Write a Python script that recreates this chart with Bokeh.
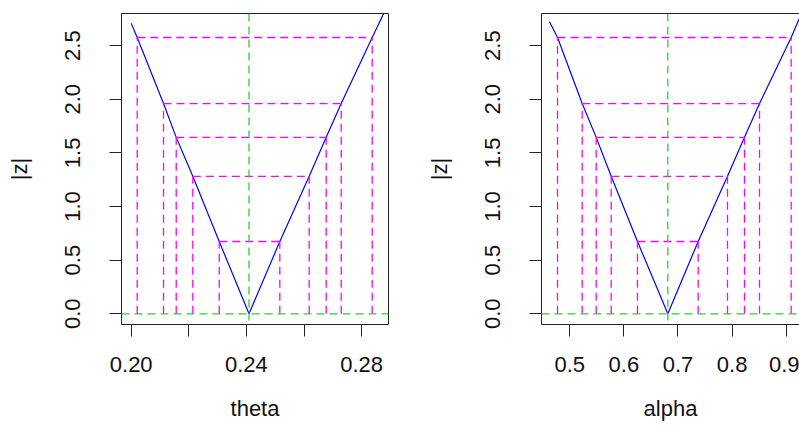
from bokeh.plotting import figure
from bokeh.layouts import row
from bokeh.models import ColumnDataSource, Span, FixedTicker, LinearAxis, Range1d
from bokeh.embed import file_html
from bokeh.resources import INLINE

# ---- data ----
levels = [0.674, 1.282, 1.645, 1.960, 2.576]
z_ticks = [0.0, 0.5, 1.0, 1.5, 2.0, 2.5]
z_labels = ["0.0", "0.5", "1.0", "1.5", "2.0", "2.5"]

theta = [0.2000, 0.20208, 0.21122, 0.21563, 0.22139, 0.23056, 0.2409,
         0.2516, 0.2618, 0.26771, 0.27292, 0.28368, 0.2900]
theta_z = [2.708, 2.576, 1.960, 1.645, 1.282, 0.674, 0.0,
           0.674, 1.282, 1.645, 1.960, 2.576, 2.93]
theta_lo = [0.23056, 0.22139, 0.21563, 0.21122, 0.20208]
theta_hi = [0.2516, 0.2618, 0.26771, 0.27292, 0.28368]
theta_hat = 0.2409
theta_ticks = [0.20, 0.22, 0.24, 0.26, 0.28]
theta_labels = ["0.20", "", "0.24", "", "0.28"]

alpha = [0.4625, 0.4773, 0.5229, 0.5488, 0.5765, 0.6251, 0.6812,
         0.7373, 0.7915, 0.8229, 0.8507, 0.9092, 0.935]
alpha_z = [2.724, 2.576, 1.960, 1.645, 1.282, 0.674, 0.0,
           0.674, 1.282, 1.645, 1.960, 2.576, 2.88]
alpha_lo = [0.6251, 0.5765, 0.5488, 0.5229, 0.4773]
alpha_hi = [0.7373, 0.7915, 0.8229, 0.8507, 0.9092]
alpha_hat = 0.6812
alpha_ticks = [0.5, 0.6, 0.7, 0.8, 0.9]
alpha_labels = ["0.5", "0.6", "0.7", "0.8", "0.9"]

FONT = "Liberation Sans"
FS = "22px"
MAGENTA = "#FF00FF"
GREEN = "#33CC33"
BLUE = "#0000FF"


def style_axis(ax):
    ax.major_tick_in = 0
    ax.major_tick_out = 12
    ax.minor_tick_in = 0
    ax.minor_tick_out = 0
    ax.major_tick_line_color = "#222222"
    ax.major_label_text_font = FONT
    ax.major_label_text_font_size = FS
    ax.major_label_text_color = "#111111"
    ax.axis_label_text_font = FONT
    ax.axis_label_text_font_size = FS
    ax.axis_label_text_font_style = "normal"
    ax.axis_label_text_color = "#111111"


def panel(xs, zs, lo, hi, hat, xticks, xlabels, xr, xlabel, width,
          min_left, min_right, open_right):
    p = figure(width=width, height=425, x_range=Range1d(*xr),
               y_range=Range1d(-0.10, 2.80), output_backend="svg",
               toolbar_location=None, min_border_left=min_left,
               min_border_right=min_right, min_border_top=13,
               min_border_bottom=101)
    p.xgrid.visible = False
    p.ygrid.visible = False
    p.background_fill_color = "white"
    p.border_fill_color = "white"

    xa = p.xaxis[0]
    ya = p.yaxis[0]
    style_axis(xa)
    style_axis(ya)
    xa.ticker = FixedTicker(ticks=xticks)
    xa.major_label_overrides = {t: l for t, l in zip(xticks, xlabels)}
    xa.major_label_standoff = 20
    xa.axis_label = xlabel
    xa.axis_label_standoff = 21
    ya.ticker = FixedTicker(ticks=z_ticks)
    ya.major_label_overrides = {t: l for t, l in zip(z_ticks, z_labels)}
    ya.major_label_orientation = "vertical"
    ya.major_label_standoff = 29
    ya.axis_label = "|z|"
    ya.axis_label_standoff = 31

    if open_right:
        p.outline_line_color = None
        xa.axis_line_color = "#222222"
        ya.axis_line_color = "#222222"
        top = LinearAxis(ticker=FixedTicker(ticks=[]), major_tick_out=0,
                         major_tick_in=0, minor_tick_out=0, minor_tick_in=0,
                         major_label_standoff=0, axis_line_color="#222222")
        p.add_layout(top, "above")
    else:
        p.outline_line_color = "#222222"
        p.outline_line_width = 1
        xa.axis_line_color = None
        ya.axis_line_color = None

    # curve
    p.line(xs, zs, line_color=BLUE, line_width=1.2)

    # horizontal magenta segments between intercepts
    hsrc = ColumnDataSource(dict(x0=lo, x1=hi, y=levels))
    p.segment(x0="x0", y0="y", x1="x1", y1="y", source=hsrc,
              line_color=MAGENTA, line_width=1.3, line_dash="8 5")
    # vertical magenta segments down to zero
    vx = lo + hi
    vy = levels + levels
    vsrc = ColumnDataSource(dict(x=vx, y=vy, z=[0.0] * len(vx)))
    p.segment(x0="x", y0="z", x1="x", y1="y", source=vsrc,
              line_color=MAGENTA, line_width=1.3, line_dash="8 5")

    # green reference lines
    p.add_layout(Span(location=hat, dimension="height", line_color=GREEN,
                      line_width=1.3, line_dash="8 5"))
    p.add_layout(Span(location=0.0, dimension="width", line_color=GREEN,
                      line_width=1.3, line_dash="8 5"))
    return p


p1 = panel(theta, theta_z, theta_lo, theta_hi, theta_hat, theta_ticks,
           theta_labels, (0.19663, 0.28934), "theta", 400, 121, 12, False)
p2 = panel(alpha, alpha_z, alpha_lo, alpha_hi, alpha_hat, alpha_ticks,
           alpha_labels, (0.4477, 0.9246), "alpha", 399, 141, 0, True)

layout = row(p1, p2)
open("out.html", "w").write(file_html(layout, INLINE))
